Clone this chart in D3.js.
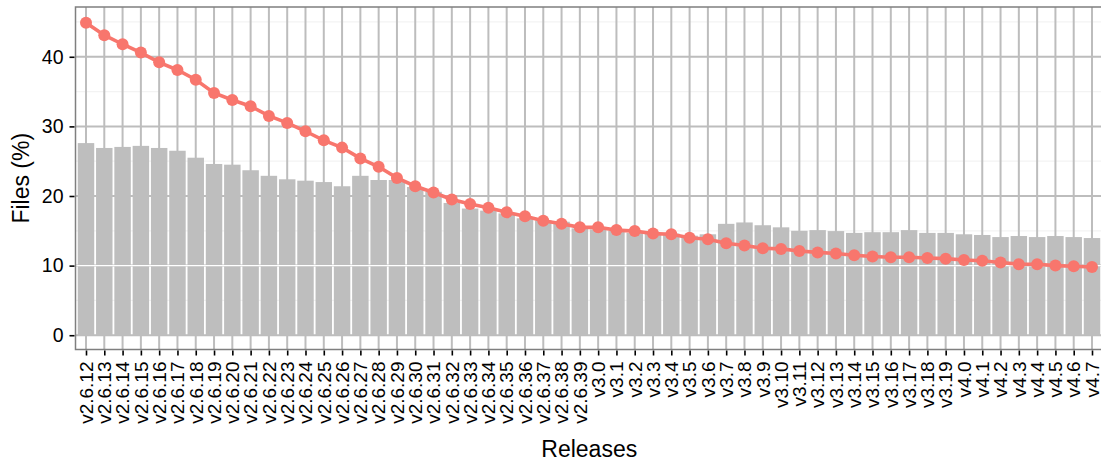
<!DOCTYPE html>
<html>
<head>
<meta charset="utf-8">
<script src="https://cdn.jsdelivr.net/npm/d3@7"></script>
<style>
  html, body { margin: 0; padding: 0; background: #fff; }
  svg { display: block; font-family: "Liberation Sans", Arial, Helvetica, sans-serif; }
</style>
</head>
<body>
<svg id="chart" width="1101" height="461"></svg>
<script>
const releases = [
  "v2.6.12","v2.6.13","v2.6.14","v2.6.15","v2.6.16","v2.6.17","v2.6.18","v2.6.19","v2.6.20","v2.6.21",
  "v2.6.22","v2.6.23","v2.6.24","v2.6.25","v2.6.26","v2.6.27","v2.6.28","v2.6.29","v2.6.30","v2.6.31",
  "v2.6.32","v2.6.33","v2.6.34","v2.6.35","v2.6.36","v2.6.37","v2.6.38","v2.6.39",
  "v3.0","v3.1","v3.2","v3.3","v3.4","v3.5","v3.6","v3.7","v3.8","v3.9","v3.10",
  "v3.11","v3.12","v3.13","v3.14","v3.15","v3.16","v3.17","v3.18","v3.19",
  "v4.0","v4.1","v4.2","v4.3","v4.4","v4.5","v4.6","v4.7"
];
// grey bars
const barValues = [
  27.6, 26.9, 27.05, 27.2, 26.9, 26.5, 25.5, 24.6, 24.5, 23.7,
  22.9, 22.4, 22.2, 22.0, 21.4, 22.9, 22.3, 22.3, 21.3, 20.6,
  19.0, 18.2, 17.9, 17.5, 16.8, 16.5, 16.3, 15.35,
  15.2, 15.0, 14.7, 14.6, 14.6, 14.3, 14.5, 16.0, 16.2, 15.8, 15.5,
  15.0, 15.1, 14.96, 14.7, 14.8, 14.8, 15.1, 14.7, 14.7,
  14.5, 14.4, 14.1, 14.25, 14.1, 14.25, 14.1, 13.96
];
// red line with points
const lineValues = [
  44.9, 43.1, 41.8, 40.6, 39.2, 38.1, 36.7, 34.8, 33.8, 32.9,
  31.5, 30.5, 29.3, 28.0, 26.95, 25.4, 24.2, 22.6, 21.4, 20.5,
  19.5, 18.85, 18.3, 17.65, 17.1, 16.45, 16.0, 15.5,
  15.5, 15.1, 14.96, 14.6, 14.5, 14.0, 13.8, 13.2, 12.9, 12.5, 12.4,
  12.1, 11.9, 11.75, 11.5, 11.3, 11.2, 11.2, 11.1, 11.0,
  10.8, 10.7, 10.45, 10.2, 10.2, 10.0, 9.9, 9.8
];
const yTicks = [0, 10, 20, 30, 40];
const yMinorTicks = [5, 15, 25, 35, 45];
const xTitle = "Releases";
const yTitle = "Files (%)";

const svg = d3.select("#chart");
const panel = { left: 75.5, top: 7, bottom: 349.5 };

const x = d3.scalePoint().domain(releases).range([86, 1092]);
const step = x.step();
panel.right = x(releases[releases.length - 1]) + 0.6 * step;

const y = d3.scaleLinear().domain([-2.05, 47.15]).range([panel.bottom, panel.top]);

const gridColor = "#bdbdbd";

// panel background
svg.append("rect")
  .attr("x", panel.left).attr("y", panel.top)
  .attr("width", panel.right - panel.left).attr("height", panel.bottom - panel.top)
  .attr("fill", "#fff");

// minor horizontal grid
svg.append("g").selectAll("line").data(yMinorTicks).join("line")
  .attr("x1", panel.left).attr("x2", panel.right)
  .attr("y1", d => y(d)).attr("y2", d => y(d))
  .attr("stroke", "#f3f3f3").attr("stroke-width", 1.2);

// major horizontal grid
svg.append("g").selectAll("line").data(yTicks).join("line")
  .attr("x1", panel.left).attr("x2", panel.right)
  .attr("y1", d => y(d)).attr("y2", d => y(d))
  .attr("stroke", gridColor).attr("stroke-width", 2);

// vertical grid
svg.append("g").selectAll("line").data(releases).join("line")
  .attr("x1", d => x(d)).attr("x2", d => x(d))
  .attr("y1", panel.top).attr("y2", panel.bottom)
  .attr("stroke", gridColor).attr("stroke-width", 2);

// bars
const bw = step * 0.9;
svg.append("g").selectAll("rect").data(releases).join("rect")
  .attr("x", d => x(d) - bw / 2)
  .attr("width", bw)
  .attr("y", (d, i) => y(barValues[i]))
  .attr("height", (d, i) => y(0) - y(barValues[i]))
  .attr("fill", "#bebebe");

// light line through bars at 10
svg.append("line")
  .attr("x1", panel.left).attr("x2", panel.right)
  .attr("y1", y(10)).attr("y2", y(10))
  .attr("stroke", "#ffffff").attr("stroke-width", 1.2);

// red line
const line = d3.line().x((d, i) => x(releases[i])).y(d => y(d));
svg.append("path")
  .datum(lineValues)
  .attr("d", line)
  .attr("fill", "none")
  .attr("stroke", "#F8766D")
  .attr("stroke-width", 3.6);

svg.append("g").selectAll("circle").data(lineValues).join("circle")
  .attr("cx", (d, i) => x(releases[i]))
  .attr("cy", d => y(d))
  .attr("r", 6)
  .attr("fill", "#F8766D");

// panel border
svg.append("rect")
  .attr("x", panel.left).attr("y", panel.top)
  .attr("width", panel.right - panel.left).attr("height", panel.bottom - panel.top)
  .attr("fill", "none").attr("stroke", "#7f7f7f").attr("stroke-width", 1.5);

// axes
const yAxis = d3.axisLeft(y).tickValues(yTicks).tickSize(5).tickPadding(6);
const gy = svg.append("g").attr("transform", `translate(${panel.left - 1},0)`).call(yAxis);
gy.select(".domain").remove();
gy.selectAll(".tick line").attr("stroke", "#000").attr("stroke-width", 1.6);
gy.selectAll(".tick text").attr("font-size", 19.5).attr("fill", "#000")
  .attr("font-family", "Liberation Sans, Arial, sans-serif");

const xAxis = d3.axisBottom(x).tickSize(5).tickPadding(4);
const gx = svg.append("g").attr("transform", `translate(0,${panel.bottom + 1})`).call(xAxis);
gx.select(".domain").remove();
gx.selectAll(".tick line").attr("stroke", "#000").attr("stroke-width", 1.6);
gx.selectAll(".tick text")
  .attr("font-size", 19).attr("fill", "#000")
  .attr("font-family", "Liberation Sans, Arial, sans-serif")
  .attr("transform", "rotate(-90)")
  .attr("text-anchor", "end")
  .attr("dy", "0.33em")
  .attr("x", -11)
  .attr("y", 0);

// titles
svg.append("text")
  .attr("x", (panel.left + panel.right) / 2)
  .attr("y", 457)
  .attr("text-anchor", "middle")
  .attr("font-size", 23)
  .attr("fill", "#000")
  .text(xTitle);

svg.append("text")
  .attr("transform", `translate(29,${(panel.top + panel.bottom) / 2}) rotate(-90)`)
  .attr("text-anchor", "middle")
  .attr("font-size", 23)
  .attr("fill", "#000")
  .text(yTitle);
</script>
</body>
</html>
